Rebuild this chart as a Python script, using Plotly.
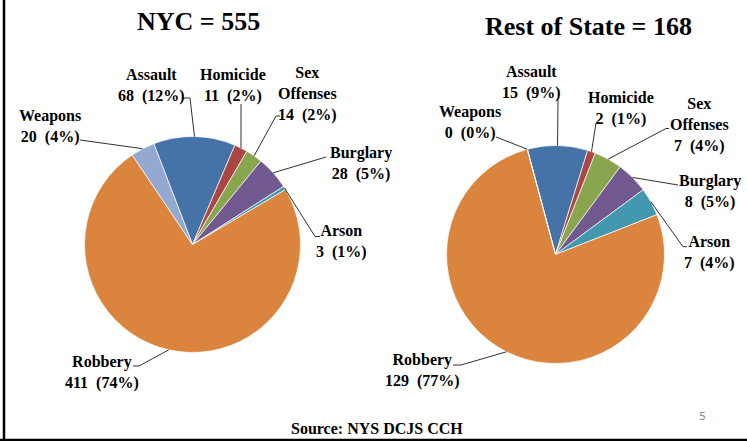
import numpy as np
import plotly.graph_objects as go

# ---------------- data ----------------
categories = ["Assault", "Homicide", "Sex Offenses", "Burglary", "Arson", "Robbery", "Weapons"]
label_names = ["Assault", "Homicide", "Sex<br>Offenses", "Burglary", "Arson", "Robbery", "Weapons"]
nyc_values = [68, 11, 14, 28, 3, 411, 20]
nyc_pct = ["12%", "2%", "2%", "5%", "1%", "74%", "4%"]
ros_values = [15, 2, 7, 8, 7, 129, 0]
ros_pct = ["9%", "1%", "4%", "5%", "4%", "77%", "0%"]
nyc_title = "NYC = 555"
ros_title = "Rest of State = 168"
source_text = "Source: NYS DCJS CCH"
page_number = "5"

colors = ["#4572A7", "#AA4643", "#89A54E", "#71588F", "#4198AF", "#DB843D", "#93A9CF"]

# ---------------- layout geometry (pixels, origin top-left) ----------------
W, H = 747, 441
FONT = "Liberation Serif"

pies = [
    dict(values=nyc_values, pct=nyc_pct, cx=192.5, cy=244.5, r=108, rot=-21,
         labels={
             "Assault": ((151, 85), [(190, 98), (183, 98)]),
             "Homicide": ((233, 85), [(241, 104)]),
             "Sex Offenses": ((307, 94), [(276, 116), (280, 116)]),
             "Burglary": ((361, 163.5), [(326, 157)]),
             "Arson": ((341, 241), [(315, 236.5), (320, 236.5)]),
             "Robbery": ((102, 372), [(139, 366), (133, 366)]),
             "Weapons": ((50, 126.5), [(80, 140)]),
         }),
    dict(values=ros_values, pct=ros_pct, cx=555.5, cy=254.5, r=109, rot=-15,
         labels={
             "Assault": ((531.5, 82), [(558, 100)]),
             "Homicide": ((621, 108.5), [(596, 123), (599, 123)]),
             "Sex Offenses": ((699, 125), [(666, 128.5), (669, 128.5)]),
             "Burglary": ((709.7, 191.5), [(678, 185)]),
             "Arson": ((709, 252), [(683, 246.7), (687, 246.7)]),
             "Robbery": ((422, 370), [(461, 365), (453, 365)]),
             "Weapons": ((469.5, 123), [(496, 137)]),
         }),
]


def px(x):
    return x / W


def py(y):
    return 1 - y / H


fig = go.Figure()
annotations = []
shapes = []

for p in pies:
    cx, cy, r = p["cx"], p["cy"], p["r"]
    fig.add_trace(go.Pie(
        labels=categories,
        values=p["values"],
        sort=False,
        direction="clockwise",
        rotation=p["rot"],
        marker=dict(colors=colors, line=dict(color="white", width=0.7)),
        textinfo="none",
        hoverinfo="label+value+percent",
        showlegend=False,
        domain=dict(x=[px(cx - r), px(cx + r)], y=[py(cy + r), py(cy - r)]),
    ))
    total = float(sum(p["values"]))
    start = p["rot"]
    for cat, name, v, pc in zip(categories, label_names, p["values"], p["pct"]):
        span = v / total * 360.0
        mid = np.radians(start + span / 2.0)
        start += span
        sx = cx + r * np.sin(mid)
        sy = cy - r * np.cos(mid)
        (tx, ty), path = p["labels"][cat]
        pts = [(sx, sy)] + path
        for (x0, y0), (x1, y1) in zip(pts[:-1], pts[1:]):
            shapes.append(dict(type="line", xref="paper", yref="paper",
                               x0=px(x0), y0=py(y0), x1=px(x1), y1=py(y1),
                               line=dict(color="#1a1a1a", width=0.9)))
        annotations.append(dict(
            x=px(tx), y=py(ty), xref="paper", yref="paper",
            text=f"{name}<br>{v}  ({pc})", showarrow=False,
            xanchor="center", yanchor="middle",
            font=dict(family=FONT, size=16, color="black", weight="bold"),
        ))

# titles
annotations.append(dict(x=px(198), y=py(21), xref="paper", yref="paper", text=nyc_title,
                        showarrow=False, xanchor="center", yanchor="middle",
                        font=dict(family=FONT, size=26, color="black", weight="bold")))
annotations.append(dict(x=px(588), y=py(27), xref="paper", yref="paper", text=ros_title,
                        showarrow=False, xanchor="center", yanchor="middle",
                        font=dict(family=FONT, size=26, color="black", weight="bold")))
# source and page number
annotations.append(dict(x=px(376.5), y=py(428), xref="paper", yref="paper", text=source_text,
                        showarrow=False, xanchor="center", yanchor="middle",
                        font=dict(family=FONT, size=16, color="black", weight="bold")))
annotations.append(dict(x=px(702), y=py(416), xref="paper", yref="paper", text=page_number,
                        showarrow=False, xanchor="center", yanchor="middle",
                        font=dict(family="DejaVu Sans", size=11, color="#8c8c8c")))

# slide frame (left and bottom borders)
shapes.append(dict(type="line", xref="paper", yref="paper", x0=px(4), x1=px(4), y0=0, y1=1,
                   line=dict(color="black", width=2.5)))
shapes.append(dict(type="line", xref="paper", yref="paper", x0=0, x1=1, y0=py(440), y1=py(440),
                   line=dict(color="black", width=2.5)))

fig.update_layout(
    width=W, height=H,
    margin=dict(l=0, r=0, t=0, b=0),
    paper_bgcolor="white", plot_bgcolor="white",
    annotations=annotations, shapes=shapes,
)

fig.write_html("out.html",
               config={"displayModeBar": False},
               post_script="document.body.style.margin='0px';document.body.style.overflow='hidden';")
